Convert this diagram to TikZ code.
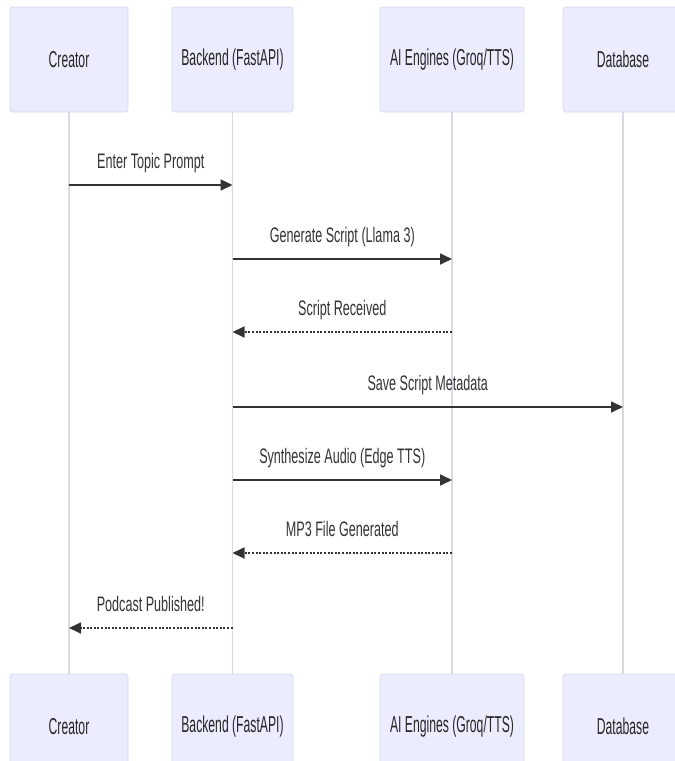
\documentclass[tikz,border=0pt]{standalone}
\usepackage{fontspec}
\setmainfont{Liberation Sans}
\newfontfamily\actorfont[FakeStretch=0.53]{Liberation Sans}
\newfontfamily\msgfont[FakeStretch=0.6]{Liberation Sans}
\usetikzlibrary{arrows.meta,positioning}
\definecolor{actorfill}{HTML}{ECECFF}
\definecolor{actorline}{HTML}{D6D6F0}
\definecolor{lifegray}{HTML}{D9D9E6}
\definecolor{inkgray}{HTML}{333333}
\tikzset{
actor/.style = {draw=actorline, fill=actorfill, rounded corners=3pt, line width=0.8pt, minimum height=105pt, text=black!85, font=\actorfont\fontsize{23}{26}\selectfont},
lifeline/.style = {draw=lifegray, line width=1.2pt},
msg/.style = {draw=inkgray, line width=1.7pt, -{Triangle[length=12pt,width=11pt]}},
reply/.style = {msg, dash pattern=on 2pt off 1.6pt},
msglabel/.style = {anchor=base, yshift=17pt, text=inkgray, font=\msgfont\fontsize{21}{24}\selectfont}
}
\begin{document}
\begin{tikzpicture}[x=1pt, y=1pt]
\useasboundingbox (0,0) rectangle (675,-761);
% participants
\node[actor, minimum width=118pt] (creator) at (69,-59.5) {Creator};
\node[actor, minimum width=121pt, right of=creator, node distance=163.5pt] (backend) {Backend (FastAPI)};
\node[actor, minimum width=144pt, right of=backend, node distance=219.5pt] (engines) {AI Engines (Groq/TTS)};
\node[actor, minimum width=120pt, right of=engines, node distance=171pt] (database) {Database};
\node[actor, minimum width=118pt, below of=creator, node distance=667pt] (creatorB) {Creator};
\node[actor, minimum width=121pt, below of=backend, node distance=667pt] (backendB) {Backend (FastAPI)};
\node[actor, minimum width=144pt, below of=engines, node distance=667pt] (enginesB) {AI Engines (Groq/TTS)};
\node[actor, minimum width=120pt, below of=database, node distance=667pt] (databaseB) {Database};
% lifelines
\draw[lifeline] (creator) -- (creatorB);
\draw[lifeline] (backend) -- (backendB);
\draw[lifeline] (engines) -- (enginesB);
\draw[lifeline] (database) -- (databaseB);
% message rows
\coordinate (row1) at (0,-185);
\coordinate (row2) at (0,-259);
\coordinate (row3) at (0,-332);
\coordinate (row4) at (0,-407);
\coordinate (row5) at (0,-480);
\coordinate (row6) at (0,-553);
\coordinate (row7) at (0,-628);
\draw[msg] (creator |- row1) -- node[msglabel] {Enter Topic Prompt} (backend |- row1);
\draw[msg] (backend |- row2) -- node[msglabel] {Generate Script (Llama 3)} (engines |- row2);
\draw[reply] (engines |- row3) -- node[msglabel] {Script Received} (backend |- row3);
\draw[msg] (backend |- row4) -- node[msglabel] {Save Script Metadata} (database |- row4);
\draw[msg] (backend |- row5) -- node[msglabel] {Synthesize Audio (Edge TTS)} (engines |- row5);
\draw[reply] (engines |- row6) -- node[msglabel] {MP3 File Generated} (backend |- row6);
\draw[reply] (backend |- row7) -- node[msglabel] {Podcast Published!} (creator |- row7);
\end{tikzpicture}
\end{document}
